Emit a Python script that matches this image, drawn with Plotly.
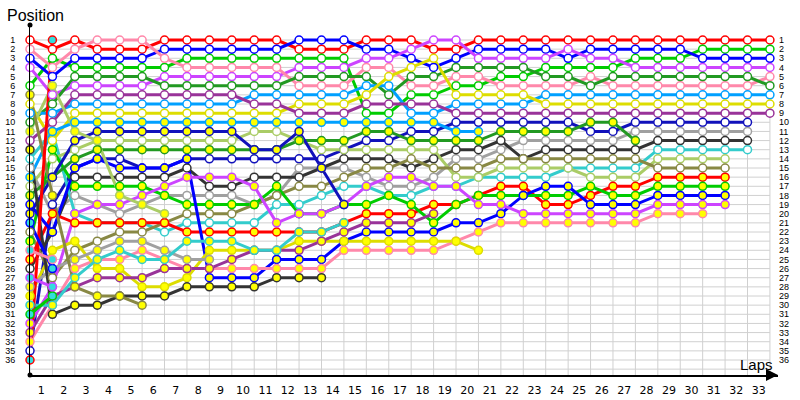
import plotly.graph_objects as go

N = None
laps = list(range(34))
lap_labels = [str(i) for i in range(1, 34)]
pos_labels = [str(i) for i in range(1, 37)]

d01 = [1,2,1,2,2,2,1,1,1,1, 1,1,2,2,2,1,1,1,2,2, 1,1,1,1,1,1,1,1,1,1, 1,1,1,1]
d02 = [6,3,4,4,4,4,4,3,3,3, 3,3,3,3,3,9,9,7,7,6, 6,5,5,4,4,4,4,3,3,3, 2,2,2,2]
d03 = [3,5,3,3,3,3,2,2,2,2, 2,2,1,1,1,2,2,3,4,3, 2,2,2,2,3,2,2,2,2,2, 3,3,3,3]
d04 = [4,7,6,6,6,6,5,5,5,5, 5,5,4,4,4,3,3,2,1,1, 3,3,3,3,2,3,3,4,4,4, 4,4,4,4]
d05 = [2,4,2,1,1,1,3,4,4,4, 4,4,6,6,6,4,4,6,6,5, 5,6,6,6,6,5,6,6,6,6, 6,6,6,5]
d06 = [10,8,5,5,5,5,6,6,6,6, 6,6,5,5,5,5,7,5,5,4, 4,4,4,5,5,6,5,5,5,5, 5,5,5,6]
d07 = [9,9,8,8,8,8,8,8,8,8, 7,7,7,7,7,6,6,9,9,8, 8,8,8,7,7,7,7,7,7,7, 7,7,7,7]
d08 = [8,12,9,9,9,9,9,9,9,9, 9,9,8,8,8,7,5,4,3,7, 7,7,7,8,8,8,8,8,8,8, 8,8,8,8]
d09 = [12,10,7,7,7,7,7,7,7,7, 8,8,9,9,9,8,8,8,8,9, 9,9,9,9,9,9,9,9,9,9, 9,9,9,9]
d10 = [35,19,15,14,14,15,15,14,14,14, 14,14,14,14,13,12,12,11,11,10, 10,10,10,10,10,11,11,10,10,10, 10,10,10,N]
d11 = [15,20,18,19,20,19,18,18,18,18, 19,18,15,15,15,16,17,17,16,14, 14,13,12,12,12,12,12,11,11,11, 11,11,11,N]
d12 = [26,22,16,16,16,16,16,15,17,17, 16,16,16,15,14,14,14,15,14,13, 13,12,14,13,13,13,13,13,12,12, 12,12,12,N]
d13 = [14,11,20,21,21,21,22,21,21,21, 21,19,19,18,17,17,18,18,17,17, 16,16,16,16,15,15,15,15,13,13, 13,13,13,N]
d14 = [17,14,13,12,12,12,12,12,12,12, 11,11,12,13,13,13,13,13,13,16, 16,15,15,15,15,16,16,16,14,14, 14,14,N,N]
d15 = [22,27,24,23,22,22,21,20,20,20, 19,18,17,17,16,15,15,14,15,15, 15,14,14,14,14,14,14,14,15,15, 15,15,N,N]
d16 = [25,20,21,21,21,21,21,22,22,22, 22,22,22,22,21,20,20,20,19,19, 18,17,17,19,19,18,17,17,16,16, 16,16,N,N]
d17 = [23,13,17,17,17,17,18,19,19,19, 19,17,20,20,19,19,18,19,21,19, 18,18,18,18,18,17,18,18,17,17, 17,17,N,N]
d18 = [19,22,15,14,15,15,15,14,27,27, 27,25,25,25,23,22,22,22,22,21, 21,20,18,17,17,19,19,19,18,18, 18,18,N,N]
d19 = [32,28,20,19,19,18,17,16,16,16, 17,21,20,20,19,17,16,16,17,17, 19,19,20,20,20,20,20,20,19,19, 19,19,N,N]
d20 = [34,30,26,25,25,24,25,26,26,26, 26,26,26,26,24,24,24,24,24,23, 22,21,21,21,21,21,21,21,20,20, 20,N,N,N]
d21 = [18,16,14,13,13,13,13,13,13,13, 13,13,12,12,12,11,11,12,12,12, 12,11,11,11,11,10,10,12,N,N, N,N,N,N]
d22 = [16,11,10,10,10,10,10,10,10,10, 10,10,10,10,10,10,10,10,10,11, 11,N,N,N,N,N,N,N,N,N, N,N,N,N]
d23 = [29,24,23,26,26,28,28,27,24,24, 24,24,23,23,23,23,23,23,23,23, 24,N,N,N,N,N,N,N,N,N, N,N,N,N]
d24 = [33,29,28,27,27,27,26,26,26,25, 24,24,24,23,22,21,21,21,20,N, N,N,N,N,N,N,N,N,N,N, N,N,N,N]
d25 = [20,16,12,11,11,11,11,11,11,11, 13,13,11,15,19,N,N,N,N,N, N,N,N,N,N,N,N,N,N,N, N,N,N,N]
d26 = [28,26,25,24,23,23,24,25,25,N, N,N,N,N,N,N,N,N,N,N, N,N,N,N,N,N,N,N,N,N, N,N,N,N]
d27 = [13,31,30,30,29,29,29,28,28,28, 28,27,27,27,N,N,N,N,N,N, N,N,N,N,N,N,N,N,N,N, N,N,N,N]
d28 = [30,30,27,25,24,25,25,23,23,23, 24,24,22,22,21,N,N,N,N,N, N,N,N,N,N,N,N,N,N,N, N,N,N,N]
d29 = [11,6,11,12,18,19,20,N,N,N, N,N,N,N,N,N,N,N,N,N, N,N,N,N,N,N,N,N,N,N, N,N,N,N]
d30 = [7,18,28,29,29,30,N,N,N,N, N,N,N,N,N,N,N,N,N,N, N,N,N,N,N,N,N,N,N,N, N,N,N,N]
d31 = [36,1,N,N,N,N,N,N,N,N, N,N,N,N,N,N,N,N,N,N, N,N,N,N,N,N,N,N,N,N, N,N,N,N]
d32 = [31,29,N,N,N,N,N,N,N,N, N,N,N,N,N,N,N,N,N,N, N,N,N,N,N,N,N,N,N,N, N,N,N,N]
d33 = [21,26,N,N,N,N,N,N,N,N, N,N,N,N,N,N,N,N,N,N, N,N,N,N,N,N,N,N,N,N, N,N,N,N]
d34 = [27,28,N,N,N,N,N,N,N,N, N,N,N,N,N,N,N,N,N,N, N,N,N,N,N,N,N,N,N,N, N,N,N,N]
d35 = [24,25,N,N,N,N,N,N,N,N, N,N,N,N,N,N,N,N,N,N, N,N,N,N,N,N,N,N,N,N, N,N,N,N]
d36 = [N,N,N,N,N,N,N,N,N,N, N,N,N,N,N,N,N,N,N,N, N,N,N,N,N,N,N,N,N,N, N,N,N,N]

drivers = [d01,d02,d03,d04,d05,d06,d07,d08,d09,d10,d11,d12,d13,d14,d15,d16,d17,d18,
           d19,d20,d21,d22,d23,d24,d25,d26,d27,d28,d29,d30,d31,d32,d33,d34,d35,d36]

palette = ["#FF0000", "#00CC00", "#0000FF", "#CC44FF", "#FF88AA", "#229922", "#00A0FF",
           "#DDDD00", "#993399", "#1111BB", "#A0A0A0", "#333333", "#33CCCC", "#AACC66", "#888844"]
fill_cycle = ["#FFFFFF", "#FFFF00", "#33DDDD"]

fig = go.Figure()

# grid
shapes = []
for k in laps:
    shapes.append(dict(type="line", xref="x", yref="y", x0=k, x1=k, y0=1, y1=37.64,
                       line=dict(color="#D0D0D0", width=1), layer="below"))
for p in range(1, 38):
    shapes.append(dict(type="line", xref="x", yref="y", x0=0, x1=33, y0=p, y1=p,
                       line=dict(color="#D0D0D0", width=1), layer="below"))

for i, d in enumerate(drivers):
    fig.add_trace(go.Scatter(x=laps, y=d, mode="lines", line=dict(color=palette[i % 15], width=3),
                             connectgaps=False, hoverinfo="skip", showlegend=False, cliponaxis=False))
for i, d in enumerate(drivers):
    fig.add_trace(go.Scatter(x=laps, y=d, mode="markers",
                             marker=dict(size=8, color=fill_cycle[i // 15],
                                         line=dict(color=palette[i % 15], width=1.5)),
                             hoverinfo="skip", showlegend=False, cliponaxis=False))

# axis end dots
fig.add_trace(go.Scatter(x=[0, 0], y=[-0.64, 37.64], mode="markers",
                         marker=dict(size=5, color="black"), cliponaxis=False,
                         hoverinfo="skip", showlegend=False))
# right axis helper
fig.add_trace(go.Scatter(x=[0], y=[1], yaxis="y2", mode="markers", marker=dict(opacity=0),
                         hoverinfo="skip", showlegend=False))

tickfont = dict(family="Liberation Sans, Arial, sans-serif", size=9, color="black")
fig.update_layout(
    width=800, height=400,
    margin=dict(l=30, r=22, t=25, b=25, autoexpand=False),
    paper_bgcolor="white", plot_bgcolor="white",
    showlegend=False,
    shapes=shapes,
    xaxis=dict(range=[0, 33.36], tickvals=[k + 0.5 for k in range(33)], ticktext=lap_labels,
               automargin=False,
               showgrid=False, zeroline=False, showline=True, linecolor="black", linewidth=2,
               ticks="outside", ticklen=4, tickcolor="rgba(0,0,0,0)",
               tickfont=dict(family="DejaVu Sans, sans-serif", size=11, color="black")),
    yaxis=dict(range=[37.64, -0.64], tickvals=list(range(1, 37)), ticktext=pos_labels,
               automargin=False,
               showgrid=False, zeroline=False, showline=True, linecolor="black", linewidth=1,
               ticks="outside", ticklen=12, tickcolor="rgba(0,0,0,0)", tickfont=tickfont),
    yaxis2=dict(range=[37.64, -0.64], tickvals=list(range(1, 37)), ticktext=pos_labels,
                automargin=False,
                overlaying="y", side="right", showgrid=False, zeroline=False, showline=False,
                ticks="", tickfont=tickfont),
    annotations=[
        dict(text="Position", xref="paper", yref="paper", x=-0.034, y=1.027, xanchor="left",
             yanchor="middle", showarrow=False,
             font=dict(family="Liberation Sans, Arial, sans-serif", size=16, color="black")),
        dict(text="Laps", xref="paper", yref="paper", x=0.996, y=0.03, xanchor="right",
             yanchor="middle", showarrow=False,
             font=dict(family="Liberation Sans, Arial, sans-serif", size=15, color="black")),
        dict(text="", x=33.36, y=37.64, ax=32.8, ay=37.64, xref="x", yref="y", axref="x",
             ayref="y", showarrow=True, arrowhead=2, arrowsize=1.2, arrowwidth=2,
             arrowcolor="black"),
    ],
)

fig.write_html("out.html", config={"displayModeBar": False},
               post_script="document.body.style.margin='0px';")
